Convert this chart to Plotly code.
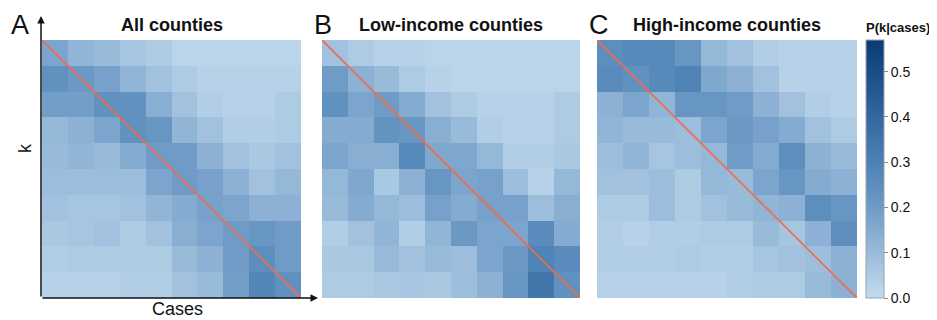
import plotly.graph_objects as go

titles = ["All counties", "Low-income counties", "High-income counties"]
letters = ["A", "B", "C"]

# rows listed top to bottom, columns left to right (cases)
all_counties = [
    [0.17, 0.12, 0.10, 0.07, 0.05, 0.02, 0.02, 0.02, 0.02, 0.02],
    [0.24, 0.21, 0.18, 0.12, 0.08, 0.05, 0.03, 0.03, 0.03, 0.03],
    [0.19, 0.19, 0.24, 0.24, 0.14, 0.08, 0.04, 0.03, 0.03, 0.05],
    [0.11, 0.13, 0.17, 0.24, 0.22, 0.12, 0.08, 0.04, 0.04, 0.05],
    [0.10, 0.12, 0.10, 0.15, 0.20, 0.20, 0.13, 0.08, 0.06, 0.08],
    [0.09, 0.09, 0.09, 0.09, 0.17, 0.20, 0.18, 0.13, 0.08, 0.11],
    [0.08, 0.07, 0.07, 0.08, 0.12, 0.15, 0.18, 0.17, 0.13, 0.13],
    [0.06, 0.07, 0.08, 0.05, 0.08, 0.14, 0.17, 0.20, 0.22, 0.20],
    [0.04, 0.05, 0.05, 0.05, 0.05, 0.10, 0.13, 0.20, 0.25, 0.20],
    [0.03, 0.03, 0.03, 0.04, 0.04, 0.08, 0.10, 0.19, 0.28, 0.24],
]
low_income = [
    [0.08, 0.05, 0.03, 0.03, 0.02, 0.02, 0.02, 0.02, 0.02, 0.02],
    [0.20, 0.13, 0.10, 0.05, 0.03, 0.02, 0.02, 0.02, 0.02, 0.02],
    [0.24, 0.17, 0.20, 0.15, 0.08, 0.05, 0.03, 0.03, 0.03, 0.05],
    [0.15, 0.15, 0.23, 0.22, 0.14, 0.10, 0.04, 0.03, 0.03, 0.05],
    [0.17, 0.14, 0.14, 0.27, 0.16, 0.16, 0.11, 0.04, 0.04, 0.06],
    [0.11, 0.16, 0.06, 0.13, 0.22, 0.17, 0.18, 0.09, 0.03, 0.11],
    [0.10, 0.15, 0.11, 0.09, 0.18, 0.15, 0.18, 0.18, 0.09, 0.14],
    [0.04, 0.08, 0.12, 0.04, 0.12, 0.21, 0.17, 0.17, 0.26, 0.15],
    [0.06, 0.06, 0.10, 0.08, 0.10, 0.09, 0.17, 0.21, 0.29, 0.26],
    [0.05, 0.05, 0.06, 0.07, 0.06, 0.09, 0.13, 0.22, 0.34, 0.24],
]
high_income = [
    [0.25, 0.27, 0.27, 0.22, 0.11, 0.08, 0.04, 0.03, 0.03, 0.03],
    [0.26, 0.24, 0.27, 0.29, 0.16, 0.13, 0.08, 0.03, 0.03, 0.03],
    [0.13, 0.17, 0.12, 0.22, 0.22, 0.20, 0.13, 0.08, 0.04, 0.03],
    [0.12, 0.10, 0.10, 0.09, 0.17, 0.21, 0.18, 0.15, 0.08, 0.05],
    [0.09, 0.12, 0.07, 0.09, 0.11, 0.20, 0.15, 0.25, 0.13, 0.10],
    [0.08, 0.08, 0.09, 0.05, 0.11, 0.10, 0.17, 0.22, 0.15, 0.13],
    [0.05, 0.05, 0.09, 0.05, 0.08, 0.10, 0.12, 0.13, 0.25, 0.22],
    [0.04, 0.03, 0.04, 0.04, 0.05, 0.05, 0.10, 0.07, 0.13, 0.25],
    [0.04, 0.04, 0.04, 0.05, 0.04, 0.04, 0.07, 0.08, 0.09, 0.13],
    [0.03, 0.03, 0.03, 0.03, 0.03, 0.04, 0.05, 0.05, 0.10, 0.13],
]
matrices = [all_counties, low_income, high_income]

cases = list(range(10))
k_vals = list(range(10))
cbar_ticks = [0.0, 0.1, 0.2, 0.3, 0.4, 0.5]
zmax = 0.57

colorscale = [
    [0.0, "#c3dbee"],
    [0.1 / zmax, "#98bbda"],
    [0.2 / zmax, "#6f9bc6"],
    [0.3 / zmax, "#4d81b5"],
    [0.4 / zmax, "#33679f"],
    [0.5 / zmax, "#1a4d88"],
    [1.0, "#0b3a72"],
]

# The page body has an 8px default margin: the figure is drawn from (8, 8).
OFF = 8
W, H = 937 - OFF, 320 - OFF


def px(x):
    return (x - OFF) / W


def py(y):
    return 1 - (y - OFF) / H


xboxes = [(42, 301), (322, 580), (597, 857)]
top_px, bot_px = 40, 298

fig = go.Figure()
for i, (z, (xl, xr)) in enumerate(zip(matrices, xboxes)):
    n = i + 1
    xa = "x" if n == 1 else f"x{n}"
    ya = "y" if n == 1 else f"y{n}"
    fig.add_trace(go.Heatmap(
        z=z, x=cases, y=k_vals, xaxis=xa, yaxis=ya,
        colorscale=colorscale, zmin=0, zmax=zmax,
        showscale=(n == 3), hoverinfo="skip",
        colorbar=dict(
            x=px(866), xanchor="left", xpad=0,
            y=py(top_px), yanchor="top", ypad=0,
            len=bot_px - top_px, lenmode="pixels",
            thickness=18, thicknessmode="pixels",
            tickvals=cbar_ticks, tickformat=".1f",
            ticks="outside", ticklen=4, tickcolor="#888888",
            tickfont=dict(size=14, color="#111111"),
            outlinewidth=1, outlinecolor="#9aa3ab",
        ),
    ))
    fig.add_trace(go.Scatter(
        x=[cases[0] - 0.5, cases[-1] + 0.5], y=[k_vals[0] - 0.5, k_vals[-1] + 0.5],
        mode="lines", line=dict(color="#f26a4b", width=1.6),
        xaxis=xa, yaxis=ya, showlegend=False, hoverinfo="skip",
    ))
    axis_common = dict(showgrid=False, zeroline=False, showticklabels=False,
                       ticks="", showline=False, fixedrange=True)
    fig.update_layout(**{
        ("xaxis" if n == 1 else f"xaxis{n}"): dict(
            domain=[px(xl), px(xr)], range=[-0.5, 9.5], anchor=ya, **axis_common),
        ("yaxis" if n == 1 else f"yaxis{n}"): dict(
            domain=[py(bot_px), py(top_px)], range=[9.5, -0.5], anchor=xa, **axis_common),
    })
    fig.add_annotation(xref="paper", yref="paper", x=px((xl + xr) / 2), y=py(25),
                       text=f"<b>{titles[i]}</b>", showarrow=False,
                       font=dict(size=18, color="#111111"), xanchor="center", yanchor="middle")

letter_x = [9, 312, 587]
for L, lx in zip(letters, letter_x):
    fig.add_annotation(xref="paper", yref="paper", x=px(lx), y=py(25), text=L,
                       showarrow=False, font=dict(size=27, color="#111111"),
                       xanchor="left", yanchor="middle")

# axis arrows for panel A
fig.add_annotation(xref="paper", yref="paper", x=px(41), y=py(16), ax=0, ay=282,
                   text="", showarrow=True, arrowhead=2, arrowsize=1, arrowwidth=1.5,
                   arrowcolor="#111111")
fig.add_annotation(xref="paper", yref="paper", x=px(318), y=py(298), ax=-277, ay=0,
                   text="", showarrow=True, arrowhead=2, arrowsize=1, arrowwidth=1.5,
                   arrowcolor="#111111")
fig.add_annotation(xref="paper", yref="paper", x=px(25), y=py(148), text="k",
                   showarrow=False, textangle=-90, font=dict(size=18, color="#111111"),
                   xanchor="center", yanchor="middle")
fig.add_annotation(xref="paper", yref="paper", x=px(177), y=py(309), text="Cases",
                   showarrow=False, font=dict(size=18, color="#111111"),
                   xanchor="center", yanchor="middle")
fig.add_annotation(xref="paper", yref="paper", x=px(864), y=py(27),
                   text="<b>P(k|cases)</b>", showarrow=False,
                   font=dict(size=13, color="#111111"), xanchor="left", yanchor="middle")

fig.update_layout(
    width=W, height=H, margin=dict(l=0, r=0, t=0, b=0),
    paper_bgcolor="white", plot_bgcolor="white",
    font=dict(family="Liberation Sans, Arial, sans-serif"),
    showlegend=False,
)
fig.write_html("out.html")
